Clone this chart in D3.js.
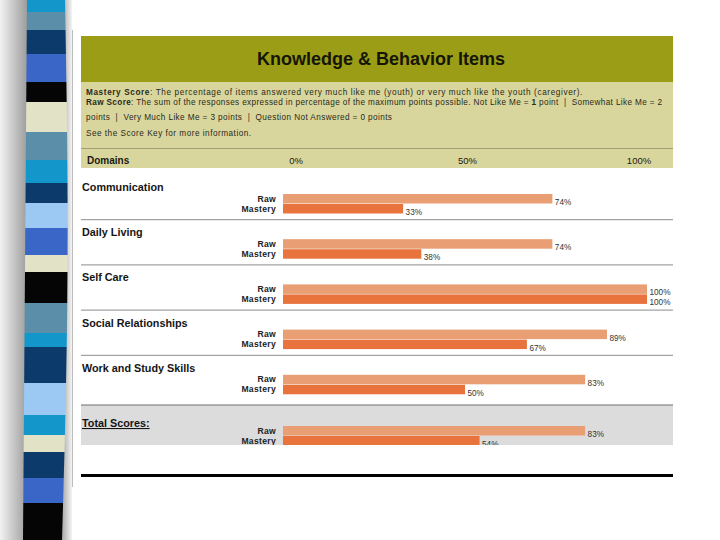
<!DOCTYPE html>
<html>
<head>
<meta charset="utf-8">
<script src="https://cdn.jsdelivr.net/npm/d3@7"></script>
<style>
  body { margin: 0; background: #fff; }
  svg { display: block; font-family: "Liberation Sans", Arial, Helvetica, sans-serif; }
  .note { white-space: pre; }
</style>
</head>
<body>
<svg id="chart" width="720" height="540"></svg>
<script>
// chart values
var domains = ["Communication", "Daily Living", "Self Care", "Social Relationships", "Work and Study Skills"];
var raw_scores = [74, 74, 100, 89, 83];
var mastery_scores = [33, 38, 100, 67, 50];
var total_label = "Total Scores:";
var total_raw = 83, total_mastery = 54;
var series = ["Raw", "Mastery"];
var tick_values = [0, 50, 100];

// slide decoration (stripe colours top to bottom and their lower edges)
var stripe_colors = ["#1396c9", "#5b8fa9", "#0b3a6b", "#3a66c8", "#050505", "#e2e2c6", "#5b8fa9",
    "#1396c9", "#0b3a6b", "#9cc8f4", "#3a66c8", "#e2e2c6", "#050505", "#5b8fa9", "#1396c9",
    "#0b3a6b", "#9cc8f4", "#1396c9", "#e2e2c6", "#0b3a6b", "#3a66c8", "#050505"];
var stripe_ends = [12, 30, 54, 82, 102, 132, 160, 183, 203, 228, 255, 272, 303, 333, 347, 383,
    415, 435, 452, 478, 503, 540];

var svg = d3.select("#chart");
var defs = svg.append("defs");

var sh = defs.append("linearGradient").attr("id", "shadowL");
sh.append("stop").attr("offset", "0%").attr("stop-color", "#f2f2f2");
sh.append("stop").attr("offset", "100%").attr("stop-color", "#9a9a9a");
var sh2 = defs.append("linearGradient").attr("id", "shadowR");
sh2.append("stop").attr("offset", "0%").attr("stop-color", "#a8a8a8");
sh2.append("stop").attr("offset", "100%").attr("stop-color", "#f4f4f4");

svg.append("rect").attr("x", 0).attr("y", 0).attr("width", 28).attr("height", 540).attr("fill", "url(#shadowL)");
svg.append("rect").attr("x", 62).attr("y", 0).attr("width", 10).attr("height", 540).attr("fill", "url(#shadowR)");

// stripes, slightly bulging to the right in the middle
function edgeL(y) { return 27 - 4 * y / 540; }
function edgeR(y) { return 65 + 4 * Math.sin(Math.PI * y / 540) - 3 * y / 540; }
stripe_colors.forEach(function (c, i) {
    var y0 = i ? stripe_ends[i - 1] : 0, y1 = stripe_ends[i];
    svg.append("path")
        .attr("d", `M${edgeL(y0)},${y0} L${edgeR(y0)},${y0} L${edgeR(y1)},${y1} L${edgeL(y1)},${y1} Z`)
        .attr("fill", c);
});

// panel
svg.append("rect").attr("x", 72).attr("y", 30).attr("width", 648).attr("height", 458).attr("fill", "#fff");
svg.append("line").attr("x1", 72.5).attr("x2", 72.5).attr("y1", 30).attr("y2", 487)
    .attr("stroke", "#bdbdbd").attr("stroke-width", 1);

var left = 81, right = 673;

// header
svg.append("rect").attr("x", left).attr("y", 36).attr("width", right - left).attr("height", 46).attr("fill", "#9c9d16");
svg.append("text").attr("x", 381).attr("y", 65).attr("text-anchor", "middle")
    .attr("font-size", 18).attr("font-weight", "bold").attr("fill", "#151505")
    .text("Knowledge & Behavior Items");

svg.append("rect").attr("x", left).attr("y", 82).attr("width", right - left).attr("height", 86).attr("fill", "#d9d69d");
svg.append("line").attr("x1", left).attr("x2", right).attr("y1", 148.5).attr("y2", 148.5)
    .attr("stroke", "#a29f73").attr("stroke-width", 1.2);

var notes = [
    [["Mastery Score", true], [": The percentage of items answered very much like me (youth) or very much like the youth (caregiver).", false]],
    [["Raw Score", true], [": The sum of the responses expressed in percentage of the maximum points possible. Not Like Me = ", false], ["1", true], [" point  |  Somewhat Like Me = 2", false]],
    [["points  |  Very Much Like Me = 3 points  |  Question Not Answered = 0 points", false]],
    [["See the Score Key for more information.", false]]
];
var note_y = [94.5, 104.5, 120, 135.5];
var note_spacing = [0.62, 0.36, 0.4, 0.5];
notes.forEach(function (parts, i) {
    var t = svg.append("text").attr("class", "note").attr("x", 86).attr("y", note_y[i])
        .attr("font-size", 8.2).attr("letter-spacing", note_spacing[i]).attr("fill", "#2a2a1a");
    parts.forEach(function (p) {
        t.append("tspan").attr("font-weight", p[1] ? "bold" : "normal").text(p[0]);
    });
});

// scales
var x = d3.scaleLinear().domain([0, 100]).range([283, 647]);
var xHead = d3.scaleLinear().domain([0, 100]).range([296, 639]);
var row = d3.scaleBand().domain(domains).range([174, 400]);

svg.append("text").attr("x", 87).attr("y", 164).attr("font-size", 10).attr("font-weight", "bold")
    .attr("fill", "#1a1a10").text("Domains");
svg.selectAll(".tick-lab").data(tick_values).enter().append("text")
    .attr("class", "tick-lab")
    .attr("x", function (d) { return xHead(d); })
    .attr("y", 164).attr("text-anchor", "middle").attr("font-size", 9.5).attr("fill", "#1a1a10")
    .text(function (d) { return d + "%"; });

var raw_color = "#e99e73", mastery_color = "#e8733c";

function drawGroup(g, rawv, mastv, top) {
    var vals = [rawv, mastv], cols = [raw_color, mastery_color];
    vals.forEach(function (v, j) {
        var y0 = top + 20 + j * 10;
        g.append("rect").attr("x", x(0)).attr("y", y0).attr("width", x(v) - x(0)).attr("height", 9.5).attr("fill", cols[j]);
        g.append("text").attr("x", 276).attr("y", y0 + 7.5).attr("text-anchor", "end")
            .attr("font-size", 8.6).attr("font-weight", "bold").attr("letter-spacing", 0.3)
            .attr("fill", "#222").text(series[j]);
        g.append("text").attr("x", x(v) + 2.5).attr("y", y0 + 11).attr("font-size", 8.2)
            .attr("fill", "#333").text(v + "%");
    });
}

domains.forEach(function (d, i) {
    var top = row(d);
    var g = svg.append("g");
    g.append("text").attr("x", 82).attr("y", top + 17).attr("font-size", 10.8).attr("font-weight", "bold")
        .attr("fill", "#151515").text(d);
    drawGroup(g, raw_scores[i], mastery_scores[i], top);
    if (i < domains.length - 1)
        g.append("line").attr("x1", left).attr("x2", right).attr("y1", top + row.step() + 0.5).attr("y2", top + row.step() + 0.5)
            .attr("stroke", "#8c8c8c").attr("stroke-width", 1);
});

// total scores
var totTop = 405;
svg.append("rect").attr("x", left).attr("y", totTop).attr("width", right - left).attr("height", 40).attr("fill", "#dcdcdc");
svg.append("line").attr("x1", left).attr("x2", right).attr("y1", totTop).attr("y2", totTop)
    .attr("stroke", "#6e6e6e").attr("stroke-width", 1.2);
var gt = svg.append("g");
gt.append("text").attr("x", 82).attr("y", totTop + 22).attr("font-size", 10.8).attr("font-weight", "bold")
    .attr("fill", "#151515").attr("text-decoration", "underline").text(total_label);
gt.append("clipPath").attr("id", "totclip").append("rect").attr("x", 0).attr("y", totTop).attr("width", 720).attr("height", 40);
var gtb = gt.append("g").attr("clip-path", "url(#totclip)");
drawGroup(gtb, total_raw, total_mastery, totTop + 1);

svg.append("line").attr("x1", left).attr("x2", right).attr("y1", 475.5).attr("y2", 475.5)
    .attr("stroke", "#000").attr("stroke-width", 3);
</script>
</body>
</html>
